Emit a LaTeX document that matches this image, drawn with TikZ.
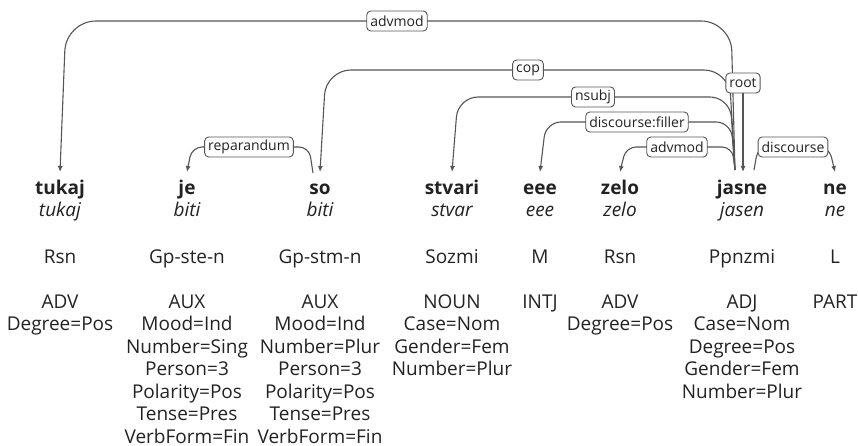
\documentclass[tikz,border=0pt]{standalone}
\usepackage{fontspec}
\setmainfont{Open Sans}
\usetikzlibrary{arrows.meta}

\definecolor{ink}{HTML}{222222}
\definecolor{arcgray}{HTML}{555555}

\begin{document}
\begin{tikzpicture}[x=1pt,y=-1pt,
  txt/.style={inner sep=0pt, text=ink, font=\fontsize{19}{22.5}\selectfont},
  word/.style={txt, anchor=base, font=\fontsize{19}{22.5}\selectfont\bfseries},
  lemma/.style={txt, anchor=base, font=\fontsize{19}{22.5}\selectfont\itshape},
  xpos/.style={txt, anchor=base},
  feats/.style={txt, anchor=north, align=center},
  deprel/.style={draw=arcgray, fill=white, rounded corners=4pt, line width=0.9pt,
    inner xsep=3.5pt, inner ysep=0pt, minimum height=20pt, text=ink,
    font=\fontsize{14}{14}\selectfont},
  dep/.style={draw=arcgray, line width=1.1pt, -{Latex[length=6pt,width=5pt]}},
]
\useasboundingbox (0,0) rectangle (858,446);

% tokens: form, lemma, xpos, upos + features
\node[word]  (w1) at (60,195)  {tukaj};
\node[lemma] (l1) at (60,217)  {tukaj};
\node[xpos]  (x1) at (60,263)  {Rsn};
\node[feats] (f1) at (60,294.4)  {ADV\\Degree=Pos};

\node[word]  (w2) at (187,195) {je};
\node[lemma] (l2) at (187,217) {biti};
\node[xpos]  (x2) at (187,263) {Gp-ste-n};
\node[feats] (f2) at (187,294.4) {AUX\\Mood=Ind\\Number=Sing\\Person=3\\Polarity=Pos\\Tense=Pres\\VerbForm=Fin};

\node[word]  (w3) at (320,195) {so};
\node[lemma] (l3) at (320,217) {biti};
\node[xpos]  (x3) at (320,263) {Gp-stm-n};
\node[feats] (f3) at (320,294.4) {AUX\\Mood=Ind\\Number=Plur\\Person=3\\Polarity=Pos\\Tense=Pres\\VerbForm=Fin};

\node[word]  (w4) at (452,195) {stvari};
\node[lemma] (l4) at (452,217) {stvar};
\node[xpos]  (x4) at (452,263) {Sozmi};
\node[feats] (f4) at (452,294.4) {NOUN\\Case=Nom\\Gender=Fem\\Number=Plur};

\node[word]  (w5) at (540,195) {eee};
\node[lemma] (l5) at (540,217) {eee};
\node[xpos]  (x5) at (540,263) {M};
\node[feats] (f5) at (540,294.4) {INTJ};

\node[word]  (w6) at (620,195) {zelo};
\node[lemma] (l6) at (620,217) {zelo};
\node[xpos]  (x6) at (620,263) {Rsn};
\node[feats] (f6) at (620,294.4) {ADV\\Degree=Pos};

\node[word]  (w7) at (742,195) {jasne};
\node[lemma] (l7) at (742,217) {jasen};
\node[xpos]  (x7) at (742,263) {Ppnzmi};
\node[feats] (f7) at (742,294.4) {ADJ\\Case=Nom\\Degree=Pos\\Gender=Fem\\Number=Plur};

\node[word]  (w8) at (835,195) {ne};
\node[lemma] (l8) at (835,217) {ne};
\node[xpos]  (x8) at (835,263) {L};
\node[feats] (f8) at (835,294.4) {PART};

% dependency arcs
\draw[dep, rounded corners=30pt] ([xshift=-7pt,yshift=25pt]w7.base) -- (731,21) -- (66,21) -- ([yshift=23pt]w1.base);
\draw[dep, rounded corners=25pt] ([xshift=-7pt,yshift=25pt]w7.base) -- (729,70) -- (326,70) -- ([yshift=23pt]w3.base);
\draw[dep, rounded corners=20pt] ([xshift=-7pt,yshift=25pt]w7.base) -- (730,97) -- (458,97) -- ([yshift=23pt]w4.base);
\draw[dep, rounded corners=15pt] ([xshift=-7pt,yshift=25pt]w7.base) -- (731,122) -- (546,122) -- ([yshift=23pt]w5.base);
\draw[dep, rounded corners=10pt] ([xshift=-7pt,yshift=25pt]w7.base) -- (732,147) -- (626,147) -- ([yshift=23pt]w6.base);
\draw[dep, rounded corners=10pt] ([xshift=12pt,yshift=25pt]w7.base) -- (758,147) -- (829,147) -- ([yshift=23pt]w8.base);
\draw[dep, rounded corners=10pt] ([xshift=-7pt,yshift=22pt]w3.base) -- (309,147) -- (192,147) -- ([yshift=23pt]w2.base);

% relation labels
\node[deprel] (r1) at (397,21)  {advmod};
\node[deprel] (r2) at (528,70)  {cop};
\node[deprel] (r3) at (593,97)  {nsubj};
\node[deprel] (r4) at (637,122) {discourse:filler};
\node[deprel] (r5) at (677,147) {advmod};
\node[deprel] (r6) at (793,147) {discourse};
\node[deprel] (r7) at (249,147) {reparandum};
\node[deprel] (r0) at (743,83)  {root};
\draw[dep] (r0) -- ([xshift=1pt,yshift=23pt]w7.base);
\end{tikzpicture}
\end{document}
